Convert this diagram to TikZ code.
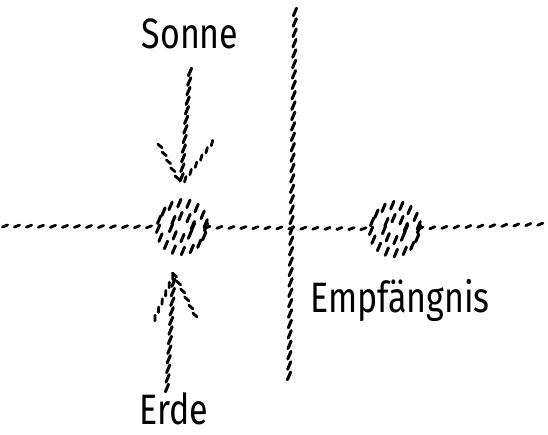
\documentclass[tikz,border=0pt]{standalone}
\usepackage{fontspec}
\setmainfont{Fira Sans}
\usetikzlibrary{decorations.markings}

\tikzset{
  % Striche laengs des Weges
  hatch/.style={draw=none, decoration={markings,
      mark=between positions 0 and 1 step #1 with
      {\draw[line width=1.4pt, line cap=round] (-1.3pt,-0.5pt) -- (1.3pt,0.5pt);}},
    postaction={decorate}},
  hatch/.default=6pt,
  % Striche immer schraeg wie /
  stamp/.style={draw=none, decoration={markings,
      mark=between positions 0 and 1 step #1 with
      {\pgftransformresetnontranslations
       \draw[line width=1.5pt, line cap=round] (-0.8pt,-1.9pt) -- (0.8pt,1.9pt);}},
    postaction={decorate}},
  stamp/.default=5.2pt,
  word/.style={font=\fontsize{17}{20}\selectfont, inner sep=0pt},
  blob/.style={circle, minimum size=25pt, inner sep=0pt},
}

\begin{document}
\begin{tikzpicture}[x=0.5pt,y=-0.5pt]
\useasboundingbox (0,0) rectangle (548,435);

% ==== Beschriftungen ====
\node[word] (sonne) at (190,34) {\scalebox{1}[1.25]{Sonne}};
\node[word] (erde) at (174,409) {\scalebox{1}[1.25]{Erde}};
\node[word] (empf) at (400,300) {\scalebox{1}[1.25]{Empfängnis}};

% ==== die beiden Kreise ====
\node[blob] (sun) at (182,227) {};
\node[blob] (conc) at (395,229) {};
\foreach \c in {sun,conc}{
  \draw[stamp=4.6pt] (\c.center) circle[radius=24];
  \draw[stamp=4.2pt] (\c.center) circle[radius=11];
}

% ==== waagrechte Linie ====
\coordinate (hl) at (5,226);
\coordinate (hr) at (545,224);
\draw[hatch] (hl) -- (sun);
\draw[hatch] (sun) -- (conc);
\draw[hatch] (conc) -- (hr);

% ==== senkrechte Trennlinie ====
\coordinate (vt) at (295,12);
\coordinate (vb) at (289,378);
\draw[stamp] (vt) -- (vb);

% ==== Pfeil von oben (Sonne) ====
\coordinate (dtop) at (190,72);
\coordinate (dtip) at (181,185);
\coordinate (dl) at (160,146);
\coordinate (dr) at (212,143);
\draw[stamp=4.8pt] (dtop) -- (dtip);
\draw[hatch=4.5pt] (dl) -- (dtip);
\draw[hatch=4.5pt] (dr) -- (dtip);

% ==== Pfeil von unten (Erde) ====
\coordinate (ubot) at (167,388);
\coordinate (utip) at (174,274);
\coordinate (ul) at (155,318);
\coordinate (ur) at (195,315);
\draw[stamp=4.8pt] (ubot) -- (utip);
\draw[hatch=4.5pt] (ul) -- (utip);
\draw[hatch=4.5pt] (ur) -- (utip);

\end{tikzpicture}
\end{document}
